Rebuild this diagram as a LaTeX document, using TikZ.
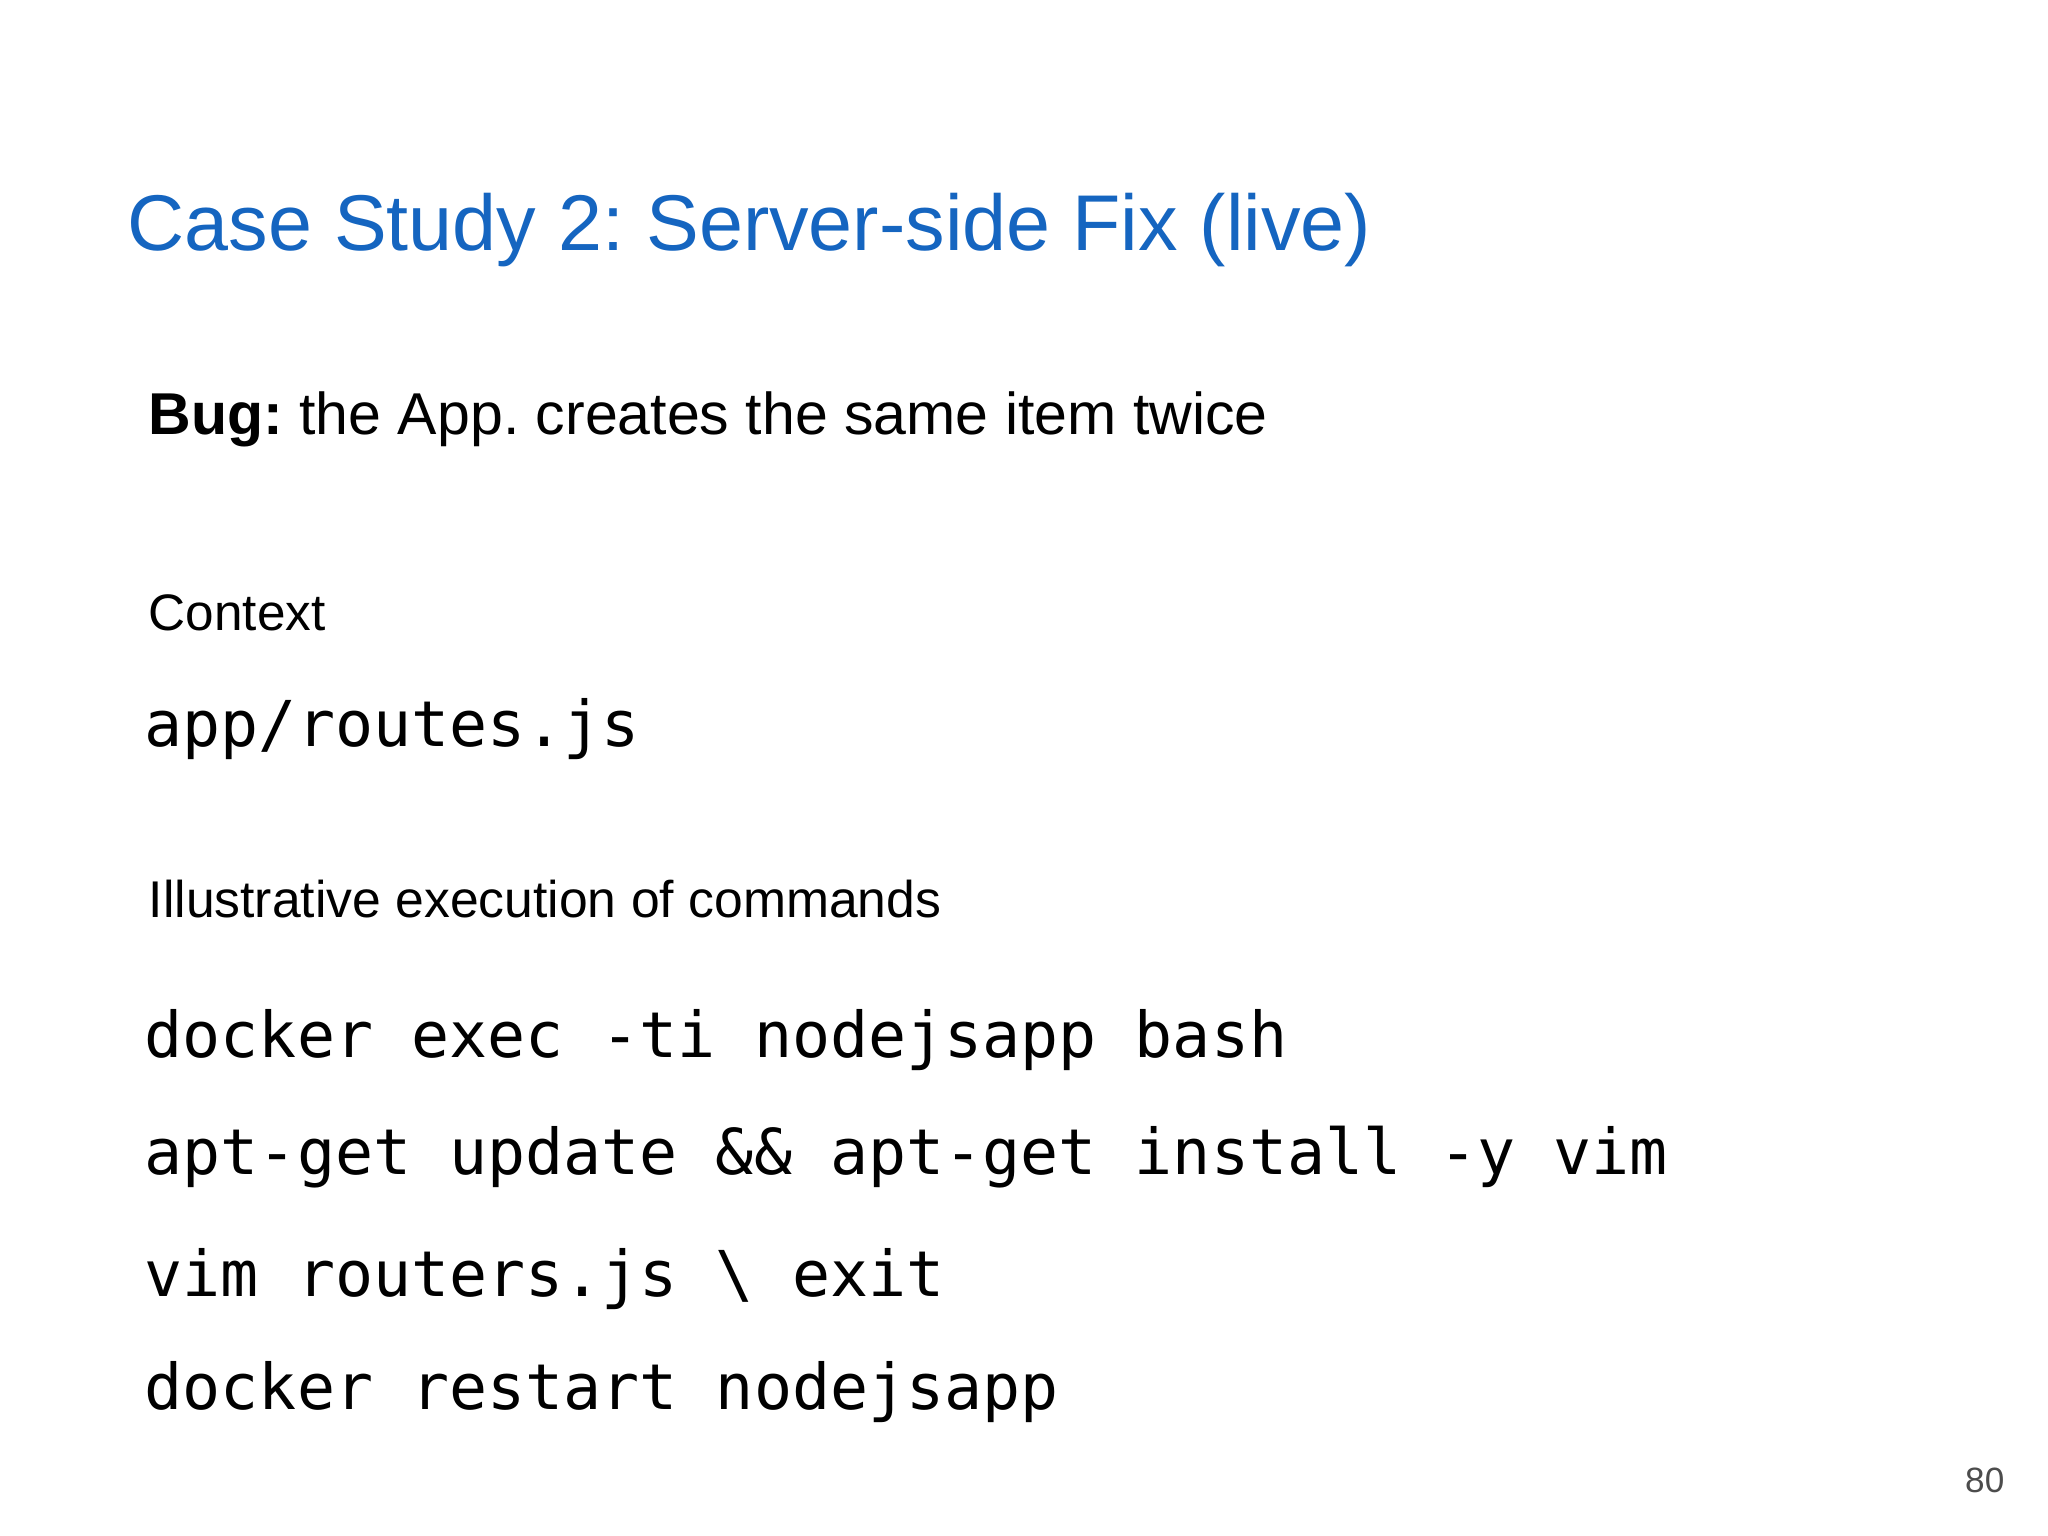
\documentclass[tikz,border=0pt]{standalone}
\usepackage{fontspec}
\setmainfont{Liberation Sans}
\setmonofont{DejaVu Sans Mono}
\definecolor{titleblue}{RGB}{21,101,192}
\frenchspacing
\begin{document}
\begin{tikzpicture}[x=1cm,y=1cm,
  txt/.style={anchor=base west,inner sep=0pt},
  code/.style={txt,font=\fontsize{18}{20}\selectfont\ttfamily}]
\useasboundingbox (0,0) rectangle (20.48,15.36);
\node[txt,text=titleblue,font=\fontsize{22.5}{26}\selectfont] (title) at (1.27,12.85) {Case Study 2: Server-side Fix (live)};
\node[txt,font=\fontsize{16.8}{20}\selectfont] (bug) at (1.48,11.01) {\textbf{Bug:} the App. creates the same item twice};
\node[txt,font=\fontsize{14.6}{18}\selectfont] (ctx) at (1.48,9.05) {Context};
\node[code] (file) at (1.44,7.89) {app/routes.js};
\node[txt,font=\fontsize{14.7}{18}\selectfont] (ill) at (1.48,6.18) {Illustrative execution of commands};
\node[code] (c1) at (1.44,4.78) {docker exec -ti nodejsapp bash};
\node[code] (c2) at (1.44,3.61) {apt-get update \&\& apt-get install -y vim};
\node[code] (c3) at (1.44,2.39) {vim routers.js \textbackslash{} exit};
\node[code] (c4) at (1.44,1.26) {docker restart nodejsapp};
\node[anchor=base east,inner sep=0pt,text=black!70,font=\fontsize{10}{12}\selectfont] (pg) at (20.05,0.43) {80};
\end{tikzpicture}
\end{document}
